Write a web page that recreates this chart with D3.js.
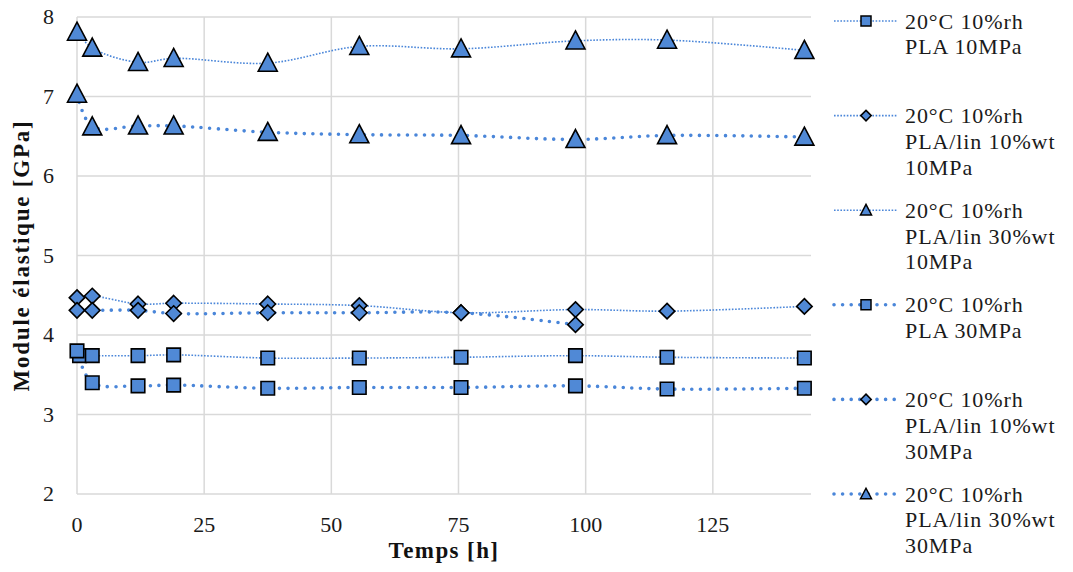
<!DOCTYPE html>
<html><head><meta charset="utf-8">
<script src="https://cdn.jsdelivr.net/npm/d3@7/dist/d3.min.js"></script>
<style>body{margin:0;background:#fff}svg{display:block}</style>
</head><body><svg id="c" width="1073" height="572"></svg>
<script>
// ---- data ----
const timesA = [0, 3, 12, 19, 37.5, 55.5, 75.5, 98, 116, 143];
const timesSq10 = [0.5, 3, 12, 19, 37.5, 55.5, 75.5, 98, 116, 143];
const timesDia30 = [0, 3, 12, 19, 37.5, 55.5, 75.5, 98];
const pla10 = [3.74, 3.74, 3.74, 3.75, 3.71, 3.71, 3.72, 3.74, 3.72, 3.71];
const lin10_10 = [4.47, 4.49, 4.39, 4.40, 4.39, 4.37, 4.28, 4.32, 4.30, 4.36];
const lin30_10 = [7.81, 7.61, 7.43, 7.48, 7.42, 7.63, 7.60, 7.70, 7.71, 7.58];
const pla30 = [3.80, 3.40, 3.36, 3.37, 3.33, 3.34, 3.34, 3.36, 3.32, 3.33];
const lin10_30 = [4.31, 4.31, 4.31, 4.27, 4.28, 4.28, 4.28, 4.13];
const lin30_30 = [7.03, 6.62, 6.63, 6.63, 6.55, 6.52, 6.51, 6.46, 6.51, 6.49];
const seriesLabels = [
  ["20°C 10%rh", "PLA 10MPa"],
  ["20°C 10%rh", "PLA/lin 10%wt", "10MPa"],
  ["20°C 10%rh", "PLA/lin 30%wt", "10MPa"],
  ["20°C 10%rh", "PLA 30MPa"],
  ["20°C 10%rh", "PLA/lin 10%wt", "30MPa"],
  ["20°C 10%rh", "PLA/lin 30%wt", "30MPa"]
];
const xTicks = [0, 25, 50, 75, 100, 125];
const yTicks = [2, 3, 4, 5, 6, 7, 8];
const xTitle = "Temps [h]";
const yTitle = "Module élastique [GPa]";

const series = [
  {t: timesSq10, v: pla10, m: "square", thick: false},
  {t: timesA, v: lin10_10, m: "diamond", thick: false},
  {t: timesA, v: lin30_10, m: "triangle", thick: false},
  {t: timesA, v: pla30, m: "square", thick: true},
  {t: timesDia30, v: lin10_30, m: "diamond", thick: true},
  {t: timesA, v: lin30_30, m: "triangle", thick: true}
];

// ---- layout ----
const L = 77, R = 811, T = 17, B = 494;
const lineCol = "#4a86d9", fillCol = "#5089d6";
const font = "Liberation Serif";
const svg = d3.select("#c");
const x = d3.scaleLinear().domain([0, 144.3]).range([L, R]);
const y = d3.scaleLinear().domain([2, 8]).range([B, T]);

// grid
const g = svg.append("g");
g.selectAll(".vg").data(xTicks).join("line")
  .attr("x1", d => x(d)).attr("x2", d => x(d)).attr("y1", T).attr("y2", B)
  .attr("stroke", "#d9d9d9").attr("stroke-width", 1.5);
g.selectAll(".hg").data(yTicks).join("line")
  .attr("x1", L).attr("x2", R).attr("y1", d => y(d)).attr("y2", d => y(d))
  .attr("stroke", "#d9d9d9").attr("stroke-width", 1.5);

// tick labels
svg.append("g").selectAll("text").data(xTicks).join("text")
  .attr("x", d => x(d)).attr("y", 532).attr("text-anchor", "middle")
  .attr("font-family", font).attr("font-size", 22).attr("fill", "#1a1a1a").text(d => d);
svg.append("g").selectAll("text").data(yTicks).join("text")
  .attr("x", 54).attr("y", d => y(d) + 7).attr("text-anchor", "end")
  .attr("font-family", font).attr("font-size", 22).attr("fill", "#1a1a1a").text(d => d);

// titles
svg.append("text").attr("x", (L + R) / 2).attr("y", 558).attr("text-anchor", "middle")
  .attr("font-family", font).attr("font-weight", "bold").attr("font-size", 23)
  .attr("letter-spacing", 1.4).attr("fill", "#111").text(xTitle);
svg.append("text").attr("transform", `translate(29,${(T + B) / 2}) rotate(-90)`).attr("text-anchor", "middle")
  .attr("font-family", font).attr("font-weight", "bold").attr("font-size", 23)
  .attr("letter-spacing", 1.8).attr("fill", "#111").text(yTitle);

// markers
function markerPath(type, s) {
  if (type === "square") { const h = s / 2; return `M${-h},${-h}H${h}V${h}H${-h}Z`; }
  if (type === "diamond") { const h = s / 2; return `M0,${-h}L${h},0L0,${h}L${-h},0Z`; }
  const w = s / 2, hh = s * 0.95;
  return `M0,${-hh * 0.55}L${w},${hh * 0.45}L${-w},${hh * 0.45}Z`;
}
const mSize = {square: 13.5, diamond: 15.5, triangle: 19};
const lSize = {square: 10, diamond: 10.5, triangle: 11};

function styleLine(sel, thick) {
  sel.attr("fill", "none").attr("stroke", lineCol);
  if (thick) sel.attr("stroke-width", 3.6).attr("stroke-linecap", "round").attr("stroke-dasharray", "0,8.6");
  else sel.attr("stroke-width", 1.6).attr("stroke-dasharray", "1.6,1.6");
}

const line = d3.line().x(d => x(d[0])).y(d => y(d[1])).curve(d3.curveCatmullRom.alpha(0.5));
series.forEach(s => {
  const pts = s.t.map((t, i) => [t, s.v[i]]);
  styleLine(svg.append("path").attr("d", line(pts)), s.thick);
});
series.forEach(s => {
  const pts = s.t.map((t, i) => [t, s.v[i]]);
  svg.append("g").selectAll("path").data(pts).join("path")
    .attr("transform", d => `translate(${x(d[0])},${y(d[1])})`)
    .attr("d", markerPath(s.m, mSize[s.m]))
    .attr("fill", fillCol).attr("stroke", "#000").attr("stroke-width", 1.6).attr("stroke-linejoin", "miter");
});

// legend
const leg = svg.append("g");
series.forEach((s, i) => {
  const cy = 21 + i * 94.6;
  const gi = leg.append("g");
  styleLine(gi.append("line").attr("x1", 834).attr("x2", 897).attr("y1", cy).attr("y2", cy), s.thick);
  gi.append("path").attr("transform", `translate(866,${cy})`).attr("d", markerPath(s.m, lSize[s.m]))
    .attr("fill", fillCol).attr("stroke", "#000").attr("stroke-width", 1.5);
  seriesLabels[i].forEach((t, j) => {
    gi.append("text").attr("x", 905).attr("y", cy + 7.5 + j * 25.8)
      .attr("font-family", font).attr("font-size", 22).attr("letter-spacing", 0.9)
      .attr("fill", "#1a1a1a").text(t);
  });
});
</script></body></html>
